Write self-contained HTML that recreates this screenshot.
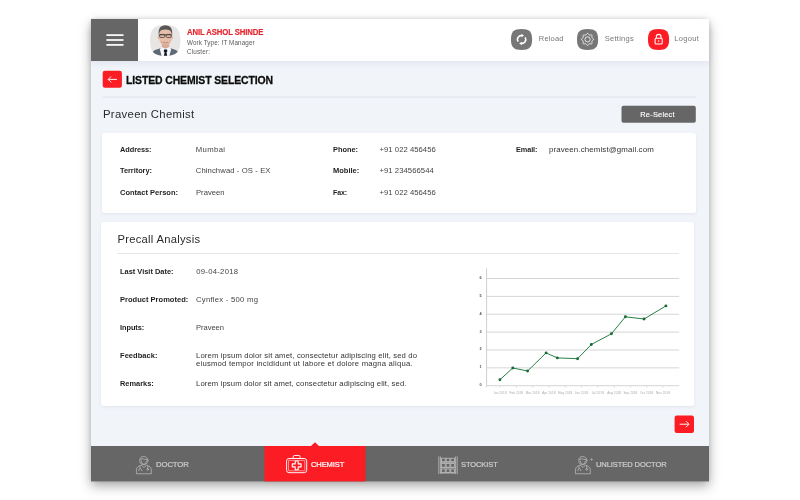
<!DOCTYPE html>
<html lang="en">
<head>
<meta charset="utf-8">
<title>Listed Chemist Selection</title>
<style>
*{box-sizing:border-box;margin:0;padding:0}
html,body{width:800px;height:500px;background:#fff;overflow:hidden}
body{font-family:"Liberation Sans",sans-serif;color:#222;position:relative}
.abs{position:absolute}
svg{overflow:visible}
.t{position:absolute;white-space:nowrap;line-height:1;transform-origin:0 0}
#frame{will-change:transform;position:absolute;left:91px;top:19px;width:618px;height:462.4px;background:#f1f4f9;box-shadow:0 5px 11px rgba(0,0,0,.34),0 0 5px rgba(0,0,0,.10)}
#hdr{position:absolute;background:#fff;box-shadow:0 2px 6px rgba(130,140,165,.15)}
</style>
</head>
<body>
<div id="frame">
<div id="hdr" style="left:0;top:0;width:618px;height:42px"></div>
<div class="abs" style="left:0.00px;top:0.00px;width:47.00px;height:42.00px;background:#666"></div>
<svg class="abs" style="left:15px;top:14px" width="19" height="14"><g fill="#fff"><rect x=".4" y="1.250" width="17.100" height="1.700"/><rect x=".4" y="6.150" width="17.100" height="1.700"/><rect x=".4" y="11.050" width="17.100" height="1.700"/></g></svg>
<svg class="abs" style="left:58.80px;top:6.20px" width="31" height="31" viewBox="0 0 31 31" ><defs><clipPath id="av"><path d="M15.2 0 C26.448 0 30.4 4.004 30.4 15.4 C30.4 26.796 26.448 30.8 15.2 30.8 C3.952 30.8 0 26.796 0 15.4 C0 4.004 3.952 0 15.2 0Z"/></clipPath><filter id="bl" x="-10%" y="-10%" width="120%" height="120%"><feGaussianBlur stdDeviation="0.45"/></filter></defs>
<g clip-path="url(#av)"><rect width="31" height="31" fill="#e8e6e5"/>
<g filter="url(#bl)">
<path d="M1 31 L2.800 26.800 Q4 25 9 23.800 L11 23 L20 23 L22 23.800 Q26.800 25 28 26.800 L29.600 31Z" fill="#5f6877"/>
<path d="M9.800 24 L12.300 21.500 L18.700 21.500 L21.200 24 L19.400 31 L11.600 31Z" fill="#f4f7fb"/>
<path d="M14.100 24.600 L17 24.600 L17.400 26.300 L16.500 27.200 L17.200 31 L13.900 31 L14.600 27.200 L13.700 26.300Z" fill="#15171d"/>
<path d="M12 16.500 L19 16.500 L19.200 22 Q15.500 24.800 11.800 22Z" fill="#d6aa94"/>
<ellipse cx="15.400" cy="11.800" rx="6.600" ry="9.200" fill="#e6bea9"/>
<ellipse cx="8.800" cy="12.200" rx=".9" ry="1.800" fill="#dcae98"/><ellipse cx="22" cy="12.200" rx=".9" ry="1.800" fill="#dcae98"/>
<path d="M8.700 10.300 Q7.800 2.600 12 .9 Q15.400 -.3 18.800 .9 Q23 2.600 22.100 10.300 Q21.500 6.800 19.800 5.300 Q15.400 3.900 11 5.300 Q9.300 6.800 8.700 10.300Z" fill="#5a5756"/>
<path d="M8.900 9.500 H21.900 V10.400 H8.900Z" fill="#2b2729"/>
<rect x="9.700" y="9.400" width="5" height="3.100" rx="1.100" fill="#e6bea9" fill-opacity=".35" stroke="#2b2729" stroke-width=".65"/>
<rect x="16.100" y="9.400" width="5" height="3.100" rx="1.100" fill="#e6bea9" fill-opacity=".35" stroke="#2b2729" stroke-width=".65"/>
<path d="M12.800 17 Q15.400 18.800 18 17" stroke="#b57f6e" stroke-width=".8" fill="none"/>
<path d="M10.500 15 Q15.400 23.500 20.300 15 Q19.500 20.500 15.400 21 Q11.300 20.500 10.500 15Z" fill="#cfa08b" opacity=".55"/>
</g></g></svg>
<svg class="abs" style="left:419.70px;top:9.55px" width="22" height="22" viewBox="0 0 22 22" ><path d="M10.55 0 C18.357 0 21.1 2.7169999999999996 21.1 10.45 C21.1 18.183 18.357 20.9 10.55 20.9 C2.7430000000000003 20.9 0 18.183 0 10.45 C0 2.7169999999999996 2.7430000000000003 0 10.55 0Z" fill="#777"/><g fill="none" stroke="#fff" stroke-width="1.500" stroke-linecap="butt"><path d="M7.200 12.600A3.700 3.700 0 0 1 11.400 6.900"/><path d="M14 8.400A3.700 3.700 0 0 1 9.800 14.100"/></g><path d="M10.300 4.700L13 6.600L10.600 8.300Z" fill="#fff"/><path d="M10.900 16.300L8.200 14.400L10.600 12.700Z" fill="#fff"/></svg>
<svg class="abs" style="left:486.20px;top:9.55px" width="22" height="22" viewBox="0 0 22 22" ><path d="M10.55 0 C18.357 0 21.1 2.7169999999999996 21.1 10.45 C21.1 18.183 18.357 20.9 10.55 20.9 C2.7430000000000003 20.9 0 18.183 0 10.45 C0 2.7169999999999996 2.7430000000000003 0 10.55 0Z" fill="#777"/><g fill="none" stroke="#fff" stroke-width=".8"><polygon points="16.60,10.40 16.41,10.91 15.94,11.35 15.38,11.69 14.96,12.00 14.80,12.38 14.88,12.90 15.03,13.54 15.06,14.18 14.83,14.68 14.33,14.91 13.69,14.88 13.05,14.73 12.53,14.65 12.15,14.81 11.84,15.23 11.50,15.79 11.06,16.26 10.55,16.45 10.04,16.26 9.60,15.79 9.26,15.23 8.95,14.81 8.57,14.65 8.05,14.73 7.41,14.88 6.77,14.91 6.27,14.68 6.04,14.18 6.07,13.54 6.22,12.90 6.30,12.38 6.14,12.00 5.72,11.69 5.16,11.35 4.69,10.91 4.50,10.40 4.69,9.89 5.16,9.45 5.72,9.11 6.14,8.80 6.30,8.42 6.22,7.90 6.07,7.26 6.04,6.62 6.27,6.12 6.77,5.89 7.41,5.92 8.05,6.07 8.57,6.15 8.95,5.99 9.26,5.57 9.60,5.01 10.04,4.54 10.55,4.35 11.06,4.54 11.50,5.01 11.84,5.57 12.15,5.99 12.53,6.15 13.05,6.07 13.69,5.92 14.33,5.89 14.83,6.12 15.06,6.62 15.03,7.26 14.88,7.90 14.80,8.42 14.96,8.80 15.38,9.11 15.94,9.45 16.41,9.89"/><circle cx="10.55" cy="10.4" r="2.600"/></g></svg>
<svg class="abs" style="left:557.10px;top:9.65px" width="22" height="22" viewBox="0 0 22 22" ><path d="M10.55 0 C18.357 0 21.1 2.7169999999999996 21.1 10.45 C21.1 18.183 18.357 20.9 10.55 20.9 C2.7430000000000003 20.9 0 18.183 0 10.45 C0 2.7169999999999996 2.7430000000000003 0 10.55 0Z" fill="#fb1c24"/><g fill="none" stroke="#fff" stroke-width="1.050"><rect x="7.100" y="9.300" width="7.100" height="5.600" rx="1"/><path d="M8.300 9.300V7.700A2.350 2.350 0 0 1 13 7.700V9.300"/></g><rect x="10.100" y="11.300" width="1.100" height="1.500" fill="#fff"/></svg>
<svg class="abs" style="left:10px;top:50px" width="23" height="21"><rect x="1.70" y="1.70" width="19.20" height="17.10" rx="2.2" fill="#fb1c24"/><g transform="translate(-101.00 -69.00)"><path d="M117 79.400H108.300M111.200 76.400L108.200 79.400L111.200 82.400" fill="none" stroke="#fff" stroke-width=".95"/></g></svg>
<svg class="abs" style="left:11px;top:76px" width="596" height="5"><rect x="1.00" y="1.55" width="592.50" height="1.00" rx="0" fill="#dde1e8"/></svg>
<svg class="abs" style="left:529px;top:85px" width="78" height="21"><rect x="1.50" y="1.70" width="74.30" height="17.10" rx="2" fill="#666"/></svg>
<div class="abs" style="left:11.00px;top:114.00px;width:594.00px;height:80.00px;background:#fff;border-radius:2.500px;box-shadow:0 1px 3px rgba(140,150,175,.16)"></div>
<div class="abs" style="left:10.00px;top:202.60px;width:593.00px;height:184.40px;background:#fff;border-radius:2.500px;box-shadow:0 1px 3px rgba(140,150,175,.16)"></div>
<div class="abs" style="left:26.30px;top:234.20px;width:562.00px;height:1.00px;background:#e4e6ea"></div>
<svg class="abs" style="left:379.00px;top:241.00px" width="220" height="140" viewBox="470 260 220 140" font-family="Liberation Sans, sans-serif"><g stroke="#d6d6d6" stroke-width="1"><line x1="486.500" y1="278.5" x2="679.200" y2="278.5"/><line x1="486.500" y1="296.4" x2="679.200" y2="296.4"/><line x1="486.500" y1="314.25" x2="679.200" y2="314.25"/><line x1="486.500" y1="332.1" x2="679.200" y2="332.1"/><line x1="486.500" y1="350.0" x2="679.200" y2="350.0"/><line x1="486.500" y1="367.85" x2="679.200" y2="367.85"/><line x1="486.500" y1="385.7" x2="679.200" y2="385.7"/><line x1="486.600" y1="268.300" x2="486.600" y2="386.800" stroke="#cfcfcf"/><line x1="500.0" y1="385.700" x2="500.0" y2="387.600" stroke="#ccc" stroke-width=".6"/><line x1="516.3" y1="385.700" x2="516.3" y2="387.600" stroke="#ccc" stroke-width=".6"/><line x1="532.6" y1="385.700" x2="532.6" y2="387.600" stroke="#ccc" stroke-width=".6"/><line x1="548.9" y1="385.700" x2="548.9" y2="387.600" stroke="#ccc" stroke-width=".6"/><line x1="565.2" y1="385.700" x2="565.2" y2="387.600" stroke="#ccc" stroke-width=".6"/><line x1="581.5" y1="385.700" x2="581.5" y2="387.600" stroke="#ccc" stroke-width=".6"/><line x1="597.8" y1="385.700" x2="597.8" y2="387.600" stroke="#ccc" stroke-width=".6"/><line x1="614.1" y1="385.700" x2="614.1" y2="387.600" stroke="#ccc" stroke-width=".6"/><line x1="630.4" y1="385.700" x2="630.4" y2="387.600" stroke="#ccc" stroke-width=".6"/><line x1="646.7" y1="385.700" x2="646.7" y2="387.600" stroke="#ccc" stroke-width=".6"/><line x1="663.0" y1="385.700" x2="663.0" y2="387.600" stroke="#ccc" stroke-width=".6"/></g><g font-size="3.800" font-weight="bold" fill="#4a4a4a" text-anchor="middle"><text x="480.500" y="278.9">6</text><text x="480.500" y="296.8">5</text><text x="480.500" y="314.6">4</text><text x="480.500" y="332.5">3</text><text x="480.500" y="350.4">2</text><text x="480.500" y="368.2">1</text><text x="480.500" y="386.1">0</text></g><g font-size="3.100" fill="#aaa" text-anchor="middle" letter-spacing=".08"><text x="500.0" y="394">Jan 2018</text><text x="516.3" y="394">Feb 2018</text><text x="532.6" y="394">Mar 2018</text><text x="548.9" y="394">Apr 2018</text><text x="565.2" y="394">May 2018</text><text x="581.5" y="394">Jun 2018</text><text x="597.8" y="394">Jul 2018</text><text x="614.1" y="394">Aug 2018</text><text x="630.4" y="394">Sep 2018</text><text x="646.7" y="394">Oct 2018</text><text x="663.0" y="394">Nov 2018</text></g><polyline fill="none" stroke="#2a8048" stroke-width="1" stroke-linejoin="round" points="499.9,379.7 512.8,368 527.6,371 546.1,352.9 557.3,357.9 577.6,358.7 591.3,344.5 611.4,333.8 625.4,316.8 644.1,319 665.9,305.9"/><g fill="#176b34"><circle cx="499.9" cy="379.7" r="1.450"/><circle cx="512.8" cy="368" r="1.450"/><circle cx="527.6" cy="371" r="1.450"/><circle cx="546.1" cy="352.9" r="1.450"/><circle cx="557.3" cy="357.9" r="1.450"/><circle cx="577.6" cy="358.7" r="1.450"/><circle cx="591.3" cy="344.5" r="1.450"/><circle cx="611.4" cy="333.8" r="1.450"/><circle cx="625.4" cy="316.8" r="1.450"/><circle cx="644.1" cy="319" r="1.450"/><circle cx="665.9" cy="305.9" r="1.450"/></g></svg>
<svg class="abs" style="left:582px;top:395px" width="23" height="21"><rect x="1.60" y="1.50" width="19.40" height="17.50" rx="2.2" fill="#fb1c24"/><g transform="translate(-673.00 -414.00)"><path d="M679.700 424.200H688.900M686 421.200L689 424.200L686 427.200" fill="none" stroke="#fff" stroke-width=".95"/></g></svg>
<svg class="abs" style="left:-1px;top:426px" width="622" height="39"><rect x="1.00" y="1.00" width="618.00" height="35.40" rx="0" fill="#666"/></svg>
<svg class="abs" style="left:172px;top:426px" width="105" height="39"><rect x="1.45" y="1.00" width="101.10" height="35.40" rx="0" fill="#fb1c24"/></svg>
<svg class="abs" style="left:219.00px;top:423.00px" width="10" height="5" viewBox="0 0 10 5" ><path d="M0.500 4.500L5 0.300L9.500 4.500Z" fill="#fb1c24"/></svg>
<svg class="abs" style="left:44.60px;top:436.60px" width="16.5" height="18" viewBox="0 0 16.5 18" ><g fill="none" stroke="#b6b6b6" stroke-width=".8" stroke-linejoin="round" stroke-linecap="round">
<circle cx="7.850" cy="4.600" r="4.100"/>
<path d="M4.100 3.700Q6.300 1.900 8.400 3.200Q10 4.100 11.500 3.400"/>
<path d="M5.300 5.100Q5.300 8.300 7.850 8.300Q10.400 8.300 10.400 5.100"/>
<path d="M.4 17.400V14Q.4 10.300 5.300 9.300L7.850 11.400L10.400 9.300Q15.300 10.300 15.300 14V17.400Z"/>
<path d="M3.900 10V12.500M2.700 14.700Q2.700 12.600 4.300 12.600Q5.900 12.600 5.900 14.700"/>
<path d="M11.700 9.800V12.400"/><circle cx="11.700" cy="13.400" r=".9"/>
</g></svg>
<svg class="abs" style="left:484.40px;top:436.50px" width="20" height="18" viewBox="0 0 20 18" ><g fill="none" stroke="#b6b6b6" stroke-width=".8" stroke-linejoin="round" stroke-linecap="round">
<circle cx="7.850" cy="4.600" r="4.100"/>
<path d="M4.100 3.700Q6.300 1.900 8.400 3.200Q10 4.100 11.500 3.400"/>
<path d="M5.300 5.100Q5.300 8.300 7.850 8.300Q10.400 8.300 10.400 5.100"/>
<path d="M.4 17.400V14Q.4 10.300 5.300 9.300L7.850 11.400L10.400 9.300Q15.300 10.300 15.300 14V17.400Z"/>
<path d="M3.900 10V12.500M2.700 14.700Q2.700 12.600 4.300 12.600Q5.900 12.600 5.900 14.700"/>
<path d="M11.700 9.800V12.400"/><circle cx="11.700" cy="13.400" r=".9"/>
</g><path d="M16.600 1.900V5.100M15 3.500H18.200" stroke="#b4b4b4" stroke-width=".6" fill="none"/></svg>
<svg class="abs" style="left:195.10px;top:436.10px" width="22" height="18" viewBox="0 0 22 18" ><g fill="none" stroke="#fff" stroke-width=".95" stroke-linejoin="round">
<rect x=".6" y="3.500" width="20.100" height="14.200" rx="2.400"/>
<rect x="2.500" y="5.400" width="16.300" height="10.400" rx=".4" stroke-width=".6" stroke-opacity=".85"/>
<path d="M7.200 3.500V1.700Q7.200 .5 8.400 .5H12.900Q14.100 .5 14.100 1.700V3.500"/>
<path d="M9.200 6H12.200V8.900H15.100V11.900H12.200V14.800H9.200V11.900H6.300V8.900H9.200Z" stroke-width="1.100"/>
</g></svg>
<svg class="abs" style="left:346.70px;top:437.00px" width="20" height="18.4" viewBox="0 0 20 18.4" ><g fill="none" stroke="#c4c4c4" stroke-width=".75"><path d="M.8 .4V18M2.400 .4V18M17.600 .4V18M19.200 .4V18"/><path d="M2.400 6.3H17.600" /><rect x="3.4" y="2.2" width="3.800" height="3.600" /><rect x="8.1" y="2.2" width="3.800" height="3.600" /><rect x="12.8" y="2.2" width="3.800" height="3.600" /><path d="M2.400 11.7H17.600" /><rect x="3.4" y="7.6" width="3.800" height="3.600" /><rect x="8.1" y="7.6" width="3.800" height="3.600" /><rect x="12.8" y="7.6" width="3.800" height="3.600" /><path d="M2.400 17.1H17.600" /><rect x="3.4" y="13.0" width="3.800" height="3.600" /><rect x="8.1" y="13.0" width="3.800" height="3.600" /><rect x="12.8" y="13.0" width="3.800" height="3.600" /></g></svg>
<div class="t" style="left:96.00px;top:9.09px;font-size:8.4px;letter-spacing:-0.120px;transform:scaleX(0.9246);color:#e8232d;font-weight:bold;-webkit-text-stroke:.15px #e8232d">ANIL ASHOL SHINDE</div>
<div class="t" style="left:96.00px;top:20.77px;font-size:6.3px;letter-spacing:0.107px;color:#5a5a5a">Work Type: IT Manager</div>
<div class="t" style="left:96.00px;top:30.07px;font-size:6.3px;letter-spacing:0.185px;color:#5a5a5a">Cluster:</div>
<div class="t" style="left:447.80px;top:15.75px;font-size:7.5px;letter-spacing:0.184px;color:#777">Reload</div>
<div class="t" style="left:513.80px;top:15.75px;font-size:7.5px;letter-spacing:0.256px;color:#777">Settings</div>
<div class="t" style="left:583.30px;top:15.75px;font-size:7.5px;letter-spacing:0.309px;color:#777">Logout</div>
<div class="t" style="left:34.50px;top:54.78px;font-size:11.6px;letter-spacing:-0.120px;transform:scaleX(0.8995);color:#0d0d0d;font-weight:bold;-webkit-text-stroke:.3px #0d0d0d">LISTED CHEMIST SELECTION</div>
<div class="t" style="left:12.00px;top:90.13px;font-size:11.3px;letter-spacing:0.328px;color:#2a2a2a">Praveen Chemist</div>
<div class="t" style="left:549.30px;top:91.64px;font-size:7.4px;letter-spacing:0.231px;color:#fff;-webkit-text-stroke:.15px #fff">Re-Select</div>
<div class="t" style="left:29.00px;top:126.75px;font-size:7.5px;letter-spacing:-0.051px;transform:scaleX(0.9795);color:#1e1e1e;font-weight:bold">Address:</div>
<div class="t" style="left:29.00px;top:148.45px;font-size:7.5px;letter-spacing:-0.031px;transform:scaleX(0.9841);color:#1e1e1e;font-weight:bold">Territory:</div>
<div class="t" style="left:29.00px;top:169.75px;font-size:7.5px;letter-spacing:0.004px;color:#1e1e1e;font-weight:bold">Contact Person:</div>
<div class="t" style="left:104.75px;top:126.58px;font-size:7.7px;letter-spacing:0.381px;color:#444">Mumbai</div>
<div class="t" style="left:104.75px;top:148.28px;font-size:7.7px;letter-spacing:0.094px;color:#444">Chinchwad - OS - EX</div>
<div class="t" style="left:104.75px;top:169.58px;font-size:7.7px;letter-spacing:-0.008px;transform:scaleX(0.9968);color:#444">Praveen</div>
<div class="t" style="left:242.00px;top:126.75px;font-size:7.5px;letter-spacing:-0.030px;transform:scaleX(0.9892);color:#1e1e1e;font-weight:bold">Phone:</div>
<div class="t" style="left:242.00px;top:148.45px;font-size:7.5px;letter-spacing:0.000px;color:#1e1e1e;font-weight:bold">Mobile:</div>
<div class="t" style="left:242.00px;top:169.75px;font-size:7.5px;letter-spacing:-0.120px;transform:scaleX(0.9295);color:#1e1e1e;font-weight:bold">Fax:</div>
<div class="t" style="left:288.50px;top:126.58px;font-size:7.7px;letter-spacing:0.035px;color:#444">+91 022 456456</div>
<div class="t" style="left:288.50px;top:148.28px;font-size:7.7px;letter-spacing:0.049px;color:#444">+91 234566544</div>
<div class="t" style="left:288.50px;top:169.58px;font-size:7.7px;letter-spacing:0.035px;color:#444">+91 022 456456</div>
<div class="t" style="left:424.50px;top:126.75px;font-size:7.5px;letter-spacing:-0.071px;transform:scaleX(0.9702);color:#1e1e1e;font-weight:bold">Email:</div>
<div class="t" style="left:458.00px;top:127.01px;font-size:7.9px;letter-spacing:0.120px;color:#333">praveen.chemist@gmail.com</div>
<div class="t" style="left:26.50px;top:215.32px;font-size:11.2px;letter-spacing:0.276px;color:#2a2a2a">Precall Analysis</div>
<div class="t" style="left:29.00px;top:249.15px;font-size:7.5px;letter-spacing:-0.013px;transform:scaleX(0.9934);color:#1e1e1e;font-weight:bold">Last Visit Date:</div>
<div class="t" style="left:105.25px;top:248.98px;font-size:7.7px;letter-spacing:0.269px;color:#444">09-04-2018</div>
<div class="t" style="left:29.00px;top:277.15px;font-size:7.5px;letter-spacing:0.021px;color:#1e1e1e;font-weight:bold">Product Promoted:</div>
<div class="t" style="left:105.00px;top:276.98px;font-size:7.7px;letter-spacing:0.259px;color:#444">Cynflex - 500 mg</div>
<div class="t" style="left:29.00px;top:304.95px;font-size:7.5px;letter-spacing:-0.044px;transform:scaleX(0.9803);color:#1e1e1e;font-weight:bold">Inputs:</div>
<div class="t" style="left:105.00px;top:304.78px;font-size:7.7px;letter-spacing:-0.037px;transform:scaleX(0.9853);color:#444">Praveen</div>
<div class="t" style="left:29.00px;top:332.95px;font-size:7.5px;letter-spacing:0.049px;color:#1e1e1e;font-weight:bold">Feedback:</div>
<div class="t" style="left:105.00px;top:332.78px;font-size:7.7px;letter-spacing:0.139px;color:#333">Lorem ipsum dolor sit amet, consectetur adipiscing elit, sed do</div>
<div class="t" style="left:105.00px;top:341.48px;font-size:7.7px;letter-spacing:0.211px;color:#333">eiusmod tempor incididunt ut labore et dolore magna aliqua.</div>
<div class="t" style="left:29.00px;top:361.15px;font-size:7.5px;letter-spacing:-0.022px;transform:scaleX(0.9916);color:#1e1e1e;font-weight:bold">Remarks:</div>
<div class="t" style="left:105.00px;top:360.98px;font-size:7.7px;letter-spacing:0.111px;color:#333">Lorem ipsum dolor sit amet, consectetur adipiscing elit, sed.</div>
<div class="t" style="left:65.45px;top:441.73px;font-size:8.0px;letter-spacing:-0.118px;transform:scaleX(0.9678);color:#cdcdcd;-webkit-text-stroke:.22px #cdcdcd">DOCTOR</div>
<div class="t" style="left:220.25px;top:441.73px;font-size:8.0px;letter-spacing:-0.120px;transform:scaleX(0.9425);color:#fff;-webkit-text-stroke:.22px #fff">CHEMIST</div>
<div class="t" style="left:370.25px;top:441.73px;font-size:8.0px;letter-spacing:-0.120px;transform:scaleX(0.9418);color:#cdcdcd;-webkit-text-stroke:.22px #cdcdcd">STOCKIST</div>
<div class="t" style="left:504.50px;top:441.73px;font-size:8.0px;letter-spacing:-0.120px;transform:scaleX(0.9473);color:#cdcdcd;-webkit-text-stroke:.22px #cdcdcd">UNLISTED DOCTOR</div>
</div>
</body>
</html>
